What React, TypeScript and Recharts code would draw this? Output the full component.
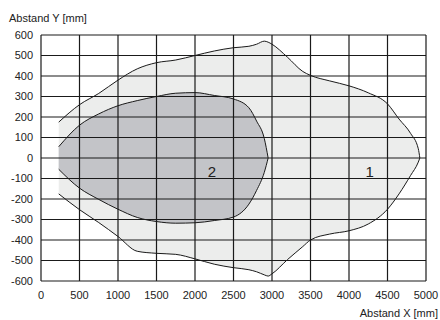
import { Area, CartesianGrid, ComposedChart, ReferenceDot, XAxis, YAxis } from "recharts";

// Abstand X [mm] where the outlines were sampled
const xs = [230, 500, 750, 1000, 1250, 1500, 1750, 2000, 2250, 2500, 2700, 2800, 2900, 2950, 3000, 3200, 3400, 3500, 3750, 4000, 4250, 4500, 4650, 4800, 4900, 4920];

// field 1 (large, light)
const upper1 = [175, 260, 315, 380, 435, 465, 478, 500, 522, 538, 545, 555, 570, 565, 555, 492, 422, 403, 376, 352, 318, 264, 190, 120, 45, 0];
const lower1 = [-175, -252, -315, -383, -455, -465, -470, -492, -518, -535, -545, -555, -570, -576, -565, -496, -432, -400, -371, -355, -322, -250, -175, -85, -20, 0];

// field 2 (small, dark) - ends at 2950
const upper2 = [55, 160, 215, 255, 280, 300, 316, 319, 305, 288, 245, 180, 95, 0];
const lower2 = [-55, -147, -202, -250, -290, -310, -318, -316, -305, -288, -225, -158, -70, 0];

const xTicks = [0, 500, 1000, 1500, 2000, 2500, 3000, 3500, 4000, 4500, 5000];
const yTicks = [-600, -500, -400, -300, -200, -100, 0, 100, 200, 300, 400, 500, 600];

const fieldLabels = [
  { name: "2", x: 2220, y: -65 },
  { name: "1", x: 4270, y: -65 },
];

const data = xs.map((x, i) => ({
  x,
  r1: [lower1[i], upper1[i]],
  r2: i < upper2.length ? [lower2[i], upper2[i]] : undefined,
}));

const font = "'Liberation Sans', Arial, sans-serif";
const tick = { fontSize: 11, fill: "#222", fontFamily: font };

export default function App() {
  return (
    <div style={{ position: "absolute", left: 0, top: 0, width: 440, height: 320, background: "#fff" }}>
      <ComposedChart width={440} height={320} data={data} margin={{ top: 35, right: 14, bottom: 14, left: 0 }}>
        <XAxis
          dataKey="x"
          type="number"
          domain={[0, 5000]}
          ticks={xTicks}
          axisLine={false}
          tickLine={false}
          tickMargin={4}
          height={25}
          tick={tick}
          interval={0}
        />
        <YAxis
          type="number"
          domain={[-600, 600]}
          ticks={yTicks}
          axisLine={false}
          tickLine={false}
          width={41}
          tick={tick}
          interval={0}
        />
        <Area
          dataKey="r1"
          type="monotone"
          fill="#ecedec"
          fillOpacity={1}
          stroke="#1a1a1a"
          strokeWidth={1}
          isAnimationActive={false}
          dot={false}
          activeDot={false}
        />
        <Area
          dataKey="r2"
          type="monotone"
          fill="#c3c4c8"
          fillOpacity={1}
          stroke="#1a1a1a"
          strokeWidth={1}
          isAnimationActive={false}
          dot={false}
          activeDot={false}
        />
        <CartesianGrid stroke="#1a1a1a" strokeWidth={1.2} zIndex={500} />
        {fieldLabels.map((l) => (
          <ReferenceDot
            key={l.name}
            x={l.x}
            y={l.y}
            r={0}
            fill="none"
            stroke="none"
            label={{ value: l.name, position: "center", fontSize: 15, fill: "#222", fontFamily: font }}
          />
        ))}
        <text x={9} y={22} fontSize={11} fill="#222" fontFamily={font}>Abstand Y [mm]</text>
        <text x={438} y={317} fontSize={11} fill="#222" fontFamily={font} textAnchor="end">Abstand X [mm]</text>
      </ComposedChart>
    </div>
  );
}
